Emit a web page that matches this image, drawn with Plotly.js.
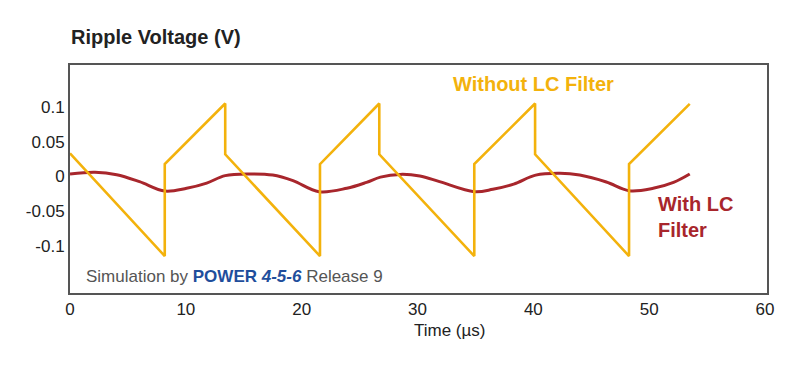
<!DOCTYPE html>
<html>
<head>
<meta charset="utf-8">
<script src="https://cdn.plot.ly/plotly-3.0.1.min.js"></script>
<style>html,body{margin:0;padding:0;background:#fff;}#chart{width:800px;height:375px;}</style>
</head>
<body>
<div id="chart"></div>
<script>
// Without LC filter (sawtooth ripple)
const withoutT = [0, 8.18, 8.18, 13.4, 13.4, 21.58, 21.58, 26.7, 26.7, 34.9, 34.9, 40.15, 40.15, 48.26, 48.26, 53.5];
const withoutV = [0.0335, -0.115, 0.0178, 0.1055, 0.032, -0.115, 0.0178, 0.1055, 0.032, -0.115, 0.0178, 0.1055, 0.032, -0.115, 0.0178, 0.105];
// With LC filter
const withT = [0, 2.16, 4.03, 6.0, 8.18, 10.07, 11.8, 13.4, 15.5, 17.5, 19.25, 21.5, 23.9, 25.6, 26.8, 28.5, 30.2, 31.9, 34.9, 36.5, 38.3, 40.2, 42.3, 44.0, 46.3, 48.26, 50.35, 52.1, 53.5];
const withV = [0.0036, 0.006, 0.0025, -0.0075, -0.021, -0.017, -0.0095, 0.0012, 0.0036, 0.002, -0.006, -0.022, -0.017, -0.0085, -0.001, 0.003, 0.0007, -0.0075, -0.022, -0.0185, -0.011, 0.002, 0.0046, 0.002, -0.008, -0.0205, -0.017, -0.0085, 0.0036];
const xTicks = [0, 10, 20, 30, 40, 50, 60];
const yTicks = [-0.1, -0.05, 0, 0.05, 0.1];
const yTickText = ['-0.1', '-0.05', '0', '0.05', '0.1'];

const FONT = 'Arial, "Liberation Sans", Helvetica, sans-serif';
const YEL = '#F3B20C';
const RED = '#A8262C';

const traces = [
  {x: withT, y: withV, mode: 'lines', line: {color: RED, width: 3, shape: 'spline', smoothing: 1}, hoverinfo: 'skip'},
  {x: withoutT, y: withoutV, mode: 'lines', line: {color: YEL, width: 2.6}, hoverinfo: 'skip'}
];

const layout = {
  width: 800, height: 375,
  margin: {l: 70, r: 33, t: 65, b: 82},
  paper_bgcolor: '#fff', plot_bgcolor: '#fff',
  showlegend: false,
  font: {family: FONT, color: '#222', size: 17},
  xaxis: {
    range: [0, 60.17], tickvals: xTicks, ticks: '', showgrid: false, zeroline: false,
    showline: true, mirror: true, linecolor: '#555', linewidth: 2,
    tickfont: {size: 17, color: '#222'}
  },
  yaxis: {
    range: [-0.1684, 0.1611], tickvals: yTicks, ticktext: yTickText, ticks: '', showgrid: false, zeroline: false,
    showline: true, mirror: true, linecolor: '#555', linewidth: 2,
    tickfont: {size: 17, color: '#222'}
  },
  annotations: [
    {xref: 'paper', yref: 'paper', x: -0.002, y: 1.065, xanchor: 'left', yanchor: 'bottom', showarrow: false,
     text: '<b>Ripple Voltage (V)</b>', font: {size: 20, color: '#222'}},
    {xref: 'x', yref: 'y', x: 32.9, y: 0.133, xanchor: 'left', yanchor: 'middle', showarrow: false,
     text: '<b>Without LC Filter</b>', font: {size: 20, color: YEL}},
    {xref: 'x', yref: 'y', x: 50.6, y: -0.058, xanchor: 'left', yanchor: 'middle', showarrow: false, align: 'left',
     text: '<b>With LC<br>Filter</b>', font: {size: 20, color: RED}},
    {xref: 'x', yref: 'y', x: 1.2, y: -0.145, xanchor: 'left', yanchor: 'middle', showarrow: false,
     text: '<span style="color:#555">Simulation by </span><b><span style="color:#1F4E9C">POWER </span><i><span style="color:#1F4E9C">4-5-6</span></i></b><span style="color:#555"> Release 9</span>',
     font: {size: 17, color: '#555'}},
    {xref: 'paper', yref: 'paper', x: 0.545, y: -0.165, xanchor: 'center', yanchor: 'middle', showarrow: false,
     text: 'Time (µs)', font: {size: 17, color: '#222'}}
  ]
};

Plotly.newPlot('chart', traces, layout, {staticPlot: true, displayModeBar: false});
</script>
</body>
</html>
